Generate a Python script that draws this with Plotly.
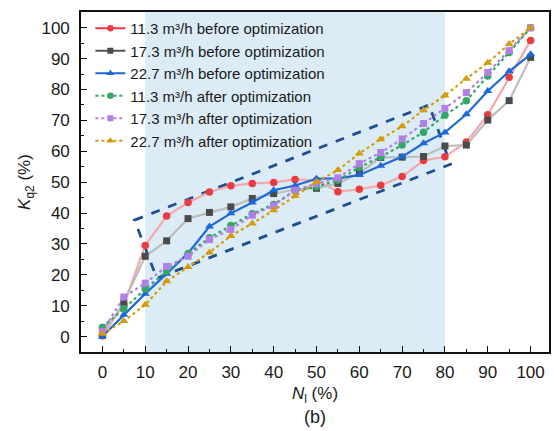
import plotly.graph_objects as go

# Share of load N_l (%) at which K_q2 was evaluated
n_l = [0, 5, 10, 15, 20, 25, 30, 35, 40, 45, 50, 55, 60, 65, 70, 75, 80, 85, 90, 95, 100]

# K_q2 (%) before optimization
before_11_3 = [0.3, 10.4, 29.5, 39.0, 43.4, 46.8, 48.8, 49.6, 49.9, 50.9, 50.6, 46.9, 47.7, 49.0, 51.8, 57.0, 58.2, 63.0, 71.8, 84.0, 95.9]
before_17_3 = [0.5, 11.1, 26.0, 31.0, 38.2, 40.2, 42.0, 44.7, 46.3, 47.7, 48.0, 49.6, 52.9, 58.0, 58.1, 58.3, 61.7, 62.0, 70.1, 76.4, 90.4]
before_22_7 = [0.0, 7.1, 13.9, 20.3, 27.0, 35.6, 39.9, 43.4, 47.4, 48.9, 51.1, 51.2, 52.3, 55.3, 58.2, 62.6, 66.1, 72.0, 79.5, 85.9, 91.4]

# K_q2 (%) after optimization
after_11_3 = [3.0, 9.0, 15.4, 21.2, 26.8, 32.0, 36.0, 39.8, 42.8, 47.2, 48.5, 50.6, 54.8, 58.2, 62.0, 66.2, 71.7, 76.4, 84.4, 92.0, 100.0]
after_17_3 = [1.7, 12.8, 17.3, 22.7, 26.0, 31.4, 34.7, 39.3, 42.4, 47.4, 49.5, 51.4, 56.0, 59.6, 64.0, 69.0, 73.9, 79.0, 85.5, 92.6, 100.0]
after_22_7 = [0.9, 5.0, 10.3, 17.9, 22.5, 27.2, 32.6, 36.6, 40.9, 45.5, 50.1, 53.9, 59.3, 63.9, 68.1, 73.3, 78.1, 83.5, 88.7, 94.7, 100.0]

series_names = [
    "11.3 m³/h before optimization",
    "17.3 m³/h before optimization",
    "22.7 m³/h before optimization",
    "11.3 m³/h after optimization",
    "17.3 m³/h after optimization",
    "22.7 m³/h after optimization",
]

# Highlighted working range of N_l and the dashed outline around the middle band
shaded_range = [10, 80]
band_outline_x = [7.5, 76.3, 81.3, 12.7, 7.5]
band_outline_y = [37.7, 75.0, 55.8, 18.9, 37.7]

x_ticks = list(range(0, 101, 10))
y_ticks = list(range(0, 101, 10))

FONT = "Liberation Sans, Arial, sans-serif"
TEXT = "#1a1a1a"

styles = [
    # (values, line colour in plot, legend line colour, marker colour, symbol, marker size, dash)
    (before_11_3, "#f3a9ab", "#e8393e", "#ea3b40", "circle", 7.5, "solid"),
    (before_17_3, "#bdbdbd", "#555555", "#4a4a4a", "square", 7, "solid"),
    (before_22_7, "#1c6ad8", "#1c6ad8", "#1c6ad8", "triangle-up", 8, "solid"),
    (after_11_3, "#33a866", "#33a866", "#33a866", "circle", 7.5, "dot"),
    (after_17_3, "#b27fe6", "#b27fe6", "#b27fe6", "square", 7, "dot"),
    (after_22_7, "#d39c0c", "#d39c0c", "#d39c0c", "triangle-up", 8, "dot"),
]

fig = go.Figure()

for name, (vals, lc, legc, mc, sym, ms, dash) in zip(series_names, styles):
    fig.add_trace(go.Scatter(
        x=n_l, y=vals, mode="lines+markers", showlegend=False,
        line=dict(color=lc, width=2.2, dash=dash),
        marker=dict(color=mc, symbol=sym, size=ms, line=dict(width=0)),
        name=name,
    ))

# Legend entries use the full-strength line colours
for name, (vals, lc, legc, mc, sym, ms, dash) in zip(series_names, styles):
    fig.add_trace(go.Scatter(
        x=[None], y=[None], mode="lines+markers", name=name,
        line=dict(color=legc, width=2.2, dash=dash),
        marker=dict(color=mc, symbol=sym, size=ms - 1, line=dict(width=0)),
    ))

fig.add_shape(
    type="rect", xref="x", yref="paper",
    x0=shaded_range[0], x1=shaded_range[1], y0=0, y1=1,
    fillcolor="#dcecf6", line=dict(width=0), layer="below",
)

path = "M " + " L ".join(f"{x},{y}" for x, y in zip(band_outline_x, band_outline_y)) + " Z"
fig.add_shape(
    type="path", xref="x", yref="y", path=path,
    line=dict(color="#1d4f91", width=2.8, dash="dash"), layer="below",
)

fig.add_annotation(
    text="(b)", xref="paper", yref="paper", x=0.5, y=-0.191,
    showarrow=False, font=dict(family=FONT, size=18, color=TEXT),
    xanchor="center", yanchor="middle",
)

axis_common = dict(
    showline=True, linecolor="#111111", linewidth=1.6, mirror=True,
    ticks="inside", ticklen=6, tickwidth=1.4, tickcolor="#111111",
    showgrid=False, zeroline=False,
    tickfont=dict(family=FONT, size=17, color=TEXT),
    minor=dict(ticks="inside", ticklen=3.5, tickwidth=1.2, tickcolor="#111111", dtick=5, showgrid=False),
)

fig.update_xaxes(
    range=[-5, 104.3], tickvals=x_ticks, ticktext=[str(v) for v in x_ticks],
    title=dict(text="<i>N</i><sub>l</sub> (%)", font=dict(family=FONT, size=17, color=TEXT), standoff=6),
    ticklabelstandoff=4,
    **axis_common,
)
fig.update_yaxes(
    range=[-5, 105.1], tickvals=y_ticks, ticktext=[str(v) for v in y_ticks],
    title=dict(text="<i>K</i><sub>q2</sub> (%)", font=dict(family=FONT, size=17, color=TEXT), standoff=6),
    ticklabelstandoff=6,
    **axis_common,
)

fig.update_layout(
    width=554, height=431,
    margin=dict(l=81, r=3, t=12, b=79),
    paper_bgcolor="white", plot_bgcolor="white",
    font=dict(family=FONT, color=TEXT),
    legend=dict(
        x=0.02, y=1.0, xanchor="left", yanchor="top",
        bgcolor="rgba(0,0,0,0)", font=dict(family=FONT, size=15, color=TEXT),
        tracegroupgap=0, itemwidth=30,
    ),
)

fig.write_html("out.html")
